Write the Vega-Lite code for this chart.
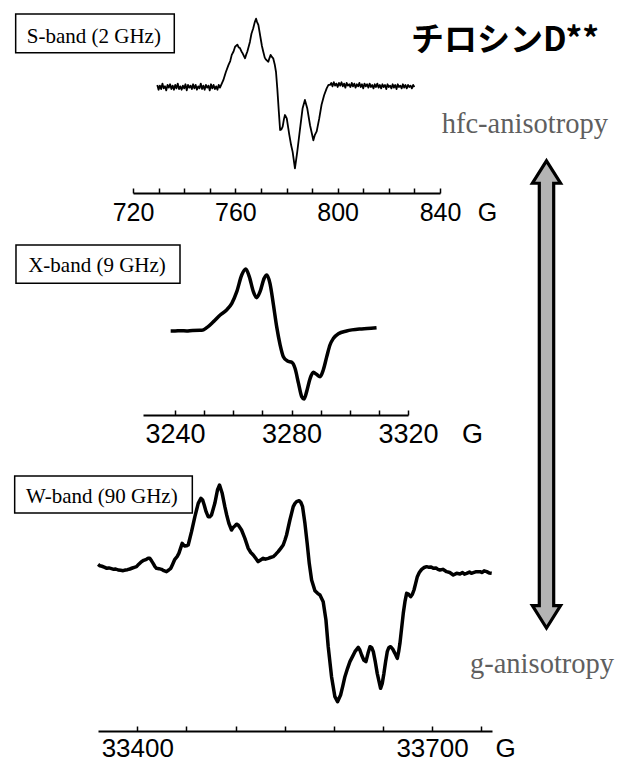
{
  "$schema": "https://vega.github.io/schema/vega-lite/v6.json",
  "width": 622,
  "height": 763,
  "padding": 0,
  "autosize": "none",
  "background": "white",
  "config": {"view": {"stroke": null}},
  "datasets": {
    "sband": [
      {"G":729.5,"I":0.03},{"G":730.0,"I":-0.04},{"G":730.5,"I":0.02},{"G":731.0,"I":-0.03},{"G":731.5,"I":0.05},{"G":732.0,"I":-0.02},{"G":732.5,"I":0.01},{"G":733.0,"I":-0.05},{"G":733.5,"I":0.03},{"G":734.0,"I":-0.01},
      {"G":734.5,"I":0.04},{"G":735.0,"I":-0.03},{"G":735.5,"I":0.02},{"G":736.0,"I":-0.04},{"G":736.5,"I":0.03},{"G":737.0,"I":-0.02},{"G":737.5,"I":0.05},{"G":738.0,"I":-0.03},{"G":738.5,"I":0.01},{"G":739.0,"I":-0.04},
      {"G":739.5,"I":0.02},{"G":740.0,"I":-0.02},{"G":740.5,"I":0.04},{"G":741.0,"I":-0.05},{"G":741.5,"I":0.03},{"G":742.0,"I":-0.01},{"G":742.5,"I":0.02},{"G":743.0,"I":-0.03},{"G":743.5,"I":0.04},{"G":744.0,"I":-0.02},
      {"G":744.5,"I":0.03},{"G":745.0,"I":-0.04},{"G":745.5,"I":0.01},{"G":746.0,"I":-0.02},{"G":746.5,"I":0.05},{"G":747.0,"I":-0.03},{"G":747.5,"I":0.02},{"G":748.0,"I":-0.04},{"G":748.5,"I":0.03},{"G":749.0,"I":-0.01},
      {"G":749.5,"I":0.02},{"G":750.0,"I":-0.05},{"G":750.5,"I":0.04},{"G":751.0,"I":-0.02},{"G":751.5,"I":0.03},{"G":752.0,"I":-0.03},{"G":752.5,"I":0.01},{"G":753.0,"I":-0.04},{"G":753.5,"I":0.03},
      {"G":754.0,"I":-0.01},{"G":755.3,"I":0.10},{"G":756.3,"I":0.22},{"G":757.3,"I":0.32},{"G":758.0,"I":0.38},{"G":758.6,"I":0.47},{"G":759.3,"I":0.52},{"G":759.9,"I":0.59},{"G":760.8,"I":0.62},{"G":761.3,"I":0.58},
      {"G":761.8,"I":0.57},{"G":762.4,"I":0.52},{"G":762.9,"I":0.49},{"G":763.8,"I":0.42},{"G":764.2,"I":0.47},{"G":764.7,"I":0.52},{"G":765.7,"I":0.66},{"G":766.3,"I":0.78},{"G":767.0,"I":0.86},{"G":767.6,"I":0.95},
      {"G":768.1,"I":1.0},{"G":768.5,"I":0.95},{"G":769.0,"I":0.91},{"G":769.9,"I":0.71},{"G":770.4,"I":0.60},{"G":770.9,"I":0.52},{"G":771.5,"I":0.43},{"G":772.0,"I":0.40},{"G":772.9,"I":0.37},{"G":773.3,"I":0.42},
      {"G":773.8,"I":0.47},{"G":774.3,"I":0.44},{"G":774.8,"I":0.42},{"G":775.4,"I":0.33},{"G":775.9,"I":0.22},{"G":776.4,"I":-0.02},{"G":777.0,"I":-0.36},{"G":777.5,"I":-0.63},{"G":778.0,"I":-0.62},{"G":778.5,"I":-0.58},
      {"G":779.0,"I":-0.47},{"G":779.4,"I":-0.41},{"G":780.1,"I":-0.46},{"G":781.1,"I":-0.70},{"G":781.8,"I":-0.85},{"G":782.4,"I":-0.95},{"G":783.3,"I":-1.19},{"G":784.2,"I":-0.95},{"G":785.3,"I":-0.61},{"G":786.3,"I":-0.31},
      {"G":787.2,"I":-0.19},{"G":788.1,"I":-0.31},{"G":789.2,"I":-0.56},{"G":790.5,"I":-0.78},{"G":791.1,"I":-0.70},{"G":791.8,"I":-0.65},{"G":792.8,"I":-0.46},{"G":793.7,"I":-0.26},{"G":794.7,"I":-0.12},{"G":795.7,"I":-0.02},
      {"G":796.4,"I":0.03},{"G":797.0,"I":0.03},
      {"G":797.5,"I":0.06},{"G":798.0,"I":0.01},{"G":798.5,"I":0.07},{"G":799.0,"I":0.02},{"G":799.5,"I":0.05},{"G":800.0,"I":0.0},{"G":800.5,"I":0.06},{"G":801.0,"I":0.02},{"G":801.5,"I":0.07},{"G":802.0,"I":0.01},
      {"G":802.5,"I":0.05},{"G":803.0,"I":-0.01},{"G":803.5,"I":0.06},{"G":804.0,"I":0.02},{"G":804.5,"I":0.04},{"G":805.0,"I":0.0},{"G":805.5,"I":0.06},{"G":806.0,"I":0.01},{"G":806.5,"I":0.05},{"G":807.0,"I":-0.01},
      {"G":807.5,"I":0.04},{"G":808.0,"I":0.01},{"G":808.5,"I":0.06},{"G":809.0,"I":0.0},{"G":809.5,"I":0.04},{"G":810.0,"I":-0.02},{"G":810.5,"I":0.05},{"G":811.0,"I":0.01},{"G":811.5,"I":0.04},{"G":812.0,"I":-0.01},
      {"G":812.5,"I":0.05},{"G":813.0,"I":0.0},{"G":813.5,"I":0.03},{"G":814.0,"I":-0.02},{"G":814.5,"I":0.04},{"G":815.0,"I":0.0},{"G":815.5,"I":0.05},{"G":816.0,"I":-0.01},{"G":816.5,"I":0.03},{"G":817.0,"I":-0.02},
      {"G":817.5,"I":0.04},{"G":818.0,"I":0.0},{"G":818.5,"I":0.03},{"G":819.0,"I":-0.03},{"G":819.5,"I":0.04},{"G":820.0,"I":0.0},{"G":820.5,"I":0.02},{"G":821.0,"I":-0.02},{"G":821.5,"I":0.04},{"G":822.0,"I":-0.01},
      {"G":822.5,"I":0.03},{"G":823.0,"I":-0.03},{"G":823.5,"I":0.04},{"G":824.0,"I":0.0},{"G":824.5,"I":0.02},{"G":825.0,"I":-0.02},{"G":825.5,"I":0.04},{"G":826.0,"I":-0.01},{"G":826.5,"I":0.03},{"G":827.0,"I":-0.02},
      {"G":827.5,"I":0.03},{"G":828.0,"I":0.0},{"G":828.5,"I":0.02},{"G":829.0,"I":-0.02},{"G":829.5,"I":0.03},{"G":830.0,"I":0.0}
    ],
    "xband": [
      {"G":3238.5,"I":0.0},{"G":3240.0,"I":0.0},{"G":3242.0,"I":0.005},{"G":3244.0,"I":0.0},{"G":3246.0,"I":0.01},{"G":3249.2,"I":0.011},{"G":3250.9,"I":0.054},{"G":3253.2,"I":0.151},{"G":3255.5,"I":0.258},{"G":3257.7,"I":0.339},
      {"G":3259.5,"I":0.446},{"G":3261.2,"I":0.634},{"G":3262.9,"I":0.903},{"G":3264.3,"I":1.0},{"G":3265.5,"I":0.876},{"G":3266.9,"I":0.634},{"G":3268.0,"I":0.538},{"G":3269.2,"I":0.634},{"G":3270.6,"I":0.849},{"G":3271.5,"I":0.903},
      {"G":3272.6,"I":0.769},{"G":3273.8,"I":0.419},{"G":3274.9,"I":0.07},{"G":3276.1,"I":-0.226},{"G":3277.2,"I":-0.414},{"G":3278.6,"I":-0.484},{"G":3280.1,"I":-0.505},{"G":3281.2,"I":-0.602},{"G":3282.4,"I":-0.844},{"G":3283.5,"I":-1.059},
      {"G":3284.3,"I":-1.097},{"G":3285.2,"I":-0.978},{"G":3286.4,"I":-0.763},{"G":3287.5,"I":-0.667},{"G":3288.6,"I":-0.699},{"G":3289.8,"I":-0.737},{"G":3290.9,"I":-0.629},{"G":3292.1,"I":-0.414},{"G":3293.2,"I":-0.226},{"G":3294.4,"I":-0.118},
      {"G":3296.1,"I":-0.043},{"G":3298.9,"I":0.0},{"G":3303.5,"I":0.032},{"G":3306.0,"I":0.04},{"G":3309.2,"I":0.054}
    ],
    "wband": [
      {"G":33360.1,"I":0.048},{"G":33362.0,"I":0.03},{"G":33364.0,"I":0.025},{"G":33366.9,"I":0.012},{"G":33369.0,"I":0.0},{"G":33371.0,"I":0.005},{"G":33373.7,"I":-0.004},{"G":33376.0,"I":-0.012},{"G":33378.0,"I":-0.008},{"G":33380.5,"I":-0.02},
      {"G":33383.0,"I":-0.024},{"G":33385.6,"I":-0.028},{"G":33388.0,"I":-0.02},{"G":33390.0,"I":-0.016},{"G":33392.4,"I":-0.008},{"G":33395.0,"I":0.004},{"G":33397.0,"I":0.012},{"G":33399.2,"I":0.02},{"G":33401.5,"I":0.05},{"G":33404.2,"I":0.08},
      {"G":33406.5,"I":0.096},{"G":33409.3,"I":0.108},{"G":33411.0,"I":0.12},{"G":33412.7,"I":0.12},{"G":33414.5,"I":0.09},{"G":33416.1,"I":0.06},{"G":33418.0,"I":0.02},{"G":33419.5,"I":0.0},{"G":33422.0,"I":-0.004},{"G":33424.6,"I":-0.012},
      {"G":33427.0,"I":-0.028},{"G":33429.7,"I":-0.04},{"G":33432.0,"I":-0.02},{"G":33434.1,"I":0.0},{"G":33436.0,"I":0.05},{"G":33438.2,"I":0.108},{"G":33440.5,"I":0.14},{"G":33442.3,"I":0.18},{"G":33444.0,"I":0.24},{"G":33445.7,"I":0.3},
      {"G":33447.0,"I":0.28},{"G":33448.4,"I":0.268},{"G":33450.0,"I":0.27},{"G":33451.8,"I":0.28},{"G":33455.2,"I":0.44},{"G":33458.6,"I":0.62},{"G":33462.0,"I":0.78},{"G":33464.7,"I":0.84},{"G":33466.5,"I":0.82},{"G":33468.1,"I":0.76},
      {"G":33470.0,"I":0.68},{"G":33472.1,"I":0.62},{"G":33473.8,"I":0.62},{"G":33475.5,"I":0.64},{"G":33478.9,"I":0.78},{"G":33481.6,"I":0.94},{"G":33483.7,"I":1.0},{"G":33486.4,"I":0.9},{"G":33489.1,"I":0.74},{"G":33491.0,"I":0.64},
      {"G":33493.2,"I":0.54},{"G":33495.9,"I":0.46},{"G":33497.5,"I":0.49},{"G":33499.3,"I":0.508},{"G":33501.0,"I":0.53},{"G":33502.7,"I":0.52},{"G":33506.1,"I":0.46},{"G":33509.5,"I":0.36},{"G":33512.9,"I":0.24},{"G":33515.5,"I":0.19},
      {"G":33518.0,"I":0.16},{"G":33520.5,"I":0.12},{"G":33523.0,"I":0.08},{"G":33525.5,"I":0.1},{"G":33528.1,"I":0.12},{"G":33530.5,"I":0.11},{"G":33533.2,"I":0.12},{"G":33535.5,"I":0.13},{"G":33538.3,"I":0.14},{"G":33541.0,"I":0.17},
      {"G":33543.4,"I":0.2},{"G":33546.0,"I":0.24},{"G":33548.5,"I":0.28},{"G":33550.3,"I":0.34},{"G":33551.9,"I":0.4},{"G":33553.6,"I":0.49},{"G":33555.3,"I":0.58},{"G":33557.0,"I":0.66},{"G":33558.7,"I":0.74},{"G":33560.5,"I":0.78},
      {"G":33562.1,"I":0.8},{"G":33564.8,"I":0.812},{"G":33566.5,"I":0.79},{"G":33568.2,"I":0.74},{"G":33570.6,"I":0.54},{"G":33572.9,"I":0.3},{"G":33575.0,"I":0.06},{"G":33577.4,"I":-0.14},{"G":33580.8,"I":-0.268},{"G":33583.5,"I":-0.3},
      {"G":33585.9,"I":-0.32},{"G":33589.2,"I":-0.4},{"G":33592.0,"I":-0.62},{"G":33594.3,"I":-0.94},{"G":33597.7,"I":-1.3},{"G":33601.1,"I":-1.54},{"G":33603.8,"I":-1.6},{"G":33606.9,"I":-1.52},{"G":33609.0,"I":-1.42},{"G":33611.3,"I":-1.3},
      {"G":33614.0,"I":-1.2},{"G":33616.4,"I":-1.12},{"G":33619.0,"I":-1.06},{"G":33621.5,"I":-1.0},{"G":33624.9,"I":-0.948},{"G":33626.5,"I":-0.98},{"G":33628.3,"I":-1.04},{"G":33630.5,"I":-1.1},{"G":33632.7,"I":-1.12},{"G":33634.8,"I":-1.02},
      {"G":33636.8,"I":-0.94},{"G":33638.5,"I":-0.95},{"G":33640.2,"I":-1.0},{"G":33642.2,"I":-1.12},{"G":33644.2,"I":-1.26},{"G":33647.6,"I":-1.44},{"G":33649.3,"I":-1.38},{"G":33651.0,"I":-1.26},{"G":33652.7,"I":-1.12},{"G":33654.4,"I":-1.0},
      {"G":33656.0,"I":-0.95},{"G":33657.8,"I":-0.94},{"G":33660.0,"I":-0.97},{"G":33662.2,"I":-1.02},{"G":33664.6,"I":-1.08},{"G":33666.0,"I":-1.0},{"G":33667.3,"I":-0.9},{"G":33669.0,"I":-0.72},{"G":33670.7,"I":-0.54},{"G":33672.4,"I":-0.4},
      {"G":33674.1,"I":-0.3},{"G":33676.0,"I":-0.31},{"G":33678.2,"I":-0.34},{"G":33680.0,"I":-0.31},{"G":33681.6,"I":-0.26},{"G":33683.3,"I":-0.18},{"G":33685.0,"I":-0.1},{"G":33687.0,"I":-0.05},{"G":33689.4,"I":-0.012},{"G":33692.0,"I":0.01},
      {"G":33694.5,"I":0.02},{"G":33697.0,"I":0.012},{"G":33699.0,"I":0.016},{"G":33701.3,"I":0.0},{"G":33704.0,"I":0.004},{"G":33706.0,"I":-0.012},{"G":33708.0,"I":-0.02},{"G":33711.0,"I":-0.012},{"G":33714.8,"I":-0.04},{"G":33718.0,"I":-0.05},
      {"G":33721.6,"I":-0.08},{"G":33725.0,"I":-0.06},{"G":33728.4,"I":-0.068},{"G":33731.0,"I":-0.05},{"G":33733.0,"I":-0.07},{"G":33735.2,"I":-0.06},{"G":33738.0,"I":-0.045},{"G":33740.0,"I":-0.06},{"G":33742.0,"I":-0.052},{"G":33745.0,"I":-0.04},
      {"G":33748.8,"I":-0.04},{"G":33751.0,"I":-0.05},{"G":33753.0,"I":-0.03},{"G":33755.6,"I":-0.04},{"G":33758.0,"I":-0.055},{"G":33760.7,"I":-0.06}
    ],
    "boxes": [
      {"band":"S","x1":2.52,"x2":28.02,"y1":1.83,"y2":6.91},
      {"band":"X","x1":2.57,"x2":28.94,"y1":32.11,"y2":37.13},
      {"band":"W","x1":2.36,"x2":30.92,"y1":62.38,"y2":67.23}
    ],
    "boxlabels": [
      {"fx":15.09,"fy":5.6,"label":"S-band (2 GHz)"},
      {"fx":15.59,"fy":35.69,"label":"X-band (9 GHz)"},
      {"fx":16.37,"fy":65.97,"label":"W-band (90 GHz)"}
    ],
    "title": [{"fx":66.08,"fy":6.62,"label":"チロシンD**"}],
    "notes": [
      {"fx":71.01,"fy":17.43,"label":"hfc-anisotropy"},
      {"fx":75.56,"fy":88.2,"label":"g-anisotropy"}
    ],
    "arrow": [{"fx":87.86,"fy":51.7}]
  },
  "layer": [
    {
      "data": {"name": "sband"},
      "mark": {"type": "line", "color": "black", "strokeWidth": 1.8, "strokeJoin": "round"},
      "encoding": {
        "x": {"field": "G", "type": "quantitative",
          "scale": {"domain": [720, 840], "range": [133, 440], "nice": false, "zero": false},
          "axis": {"orient": "bottom", "offset": -570, "values": [720,730,740,750,760,770,780,790,800,810,820,830,840],
            "format": "d", "labelExpr": "datum.value % 40 === 0 ? datum.label : ''",
            "labelFlush": false, "labelOverlap": false, "labelBound": false,
            "labelFont": "Liberation Sans", "labelFontSize": 25, "labelColor": "black", "labelBaseline": "middle", "labelPadding": 24.5,
            "tickSize": -5, "tickColor": "black", "tickWidth": 1.5, "domainColor": "black", "domainWidth": 2, "grid": false,
            "title": "G", "titleX": 487, "titleY": 19.5, "titleAlign": "center", "titleBaseline": "middle", "titleAngle": 0,
            "titleFont": "Liberation Sans", "titleFontSize": 25, "titleFontWeight": "normal", "titleColor": "black"}},
        "y": {"field": "I", "type": "quantitative",
          "scale": {"domain": [-1, 1], "range": [155.3, 18.7], "nice": false, "zero": false}, "axis": null}
      }
    },
    {
      "data": {"name": "xband"},
      "mark": {"type": "line", "color": "black", "strokeWidth": 3.5, "strokeJoin": "round", "interpolate": "monotone"},
      "encoding": {
        "x": {"field": "G", "type": "quantitative",
          "scale": {"domain": [3229, 3320], "range": [143, 408], "nice": false, "zero": false},
          "axis": {"orient": "bottom", "offset": -348, "values": [3240,3250,3260,3270,3280,3290,3300,3310,3320],
            "format": "d", "labelExpr": "datum.value % 40 === 0 ? datum.label : ''",
            "labelFlush": false, "labelOverlap": false, "labelBound": false,
            "labelFont": "Liberation Sans", "labelFontSize": 27, "labelColor": "black", "labelBaseline": "middle", "labelPadding": 24,
            "tickSize": -5, "tickColor": "black", "tickWidth": 1.5, "domainColor": "black", "domainWidth": 2, "grid": false,
            "title": "G", "titleX": 472, "titleY": 19, "titleAlign": "center", "titleBaseline": "middle", "titleAngle": 0,
            "titleFont": "Liberation Sans", "titleFontSize": 27, "titleFontWeight": "normal", "titleColor": "black"}},
        "y": {"field": "I", "type": "quantitative",
          "scale": {"domain": [-1, 1], "range": [393, 269], "nice": false, "zero": false}, "axis": null}
      }
    },
    {
      "data": {"name": "wband"},
      "mark": {"type": "line", "color": "black", "strokeWidth": 3.5, "strokeJoin": "round"},
      "encoding": {
        "x": {"field": "G", "type": "quantitative",
          "scale": {"domain": [33360, 33761], "range": [98, 492], "nice": false, "zero": false},
          "axis": {"orient": "bottom", "offset": -32, "values": [33400,33450,33500,33550,33600,33650,33700,33750],
            "format": "d", "labelExpr": "(datum.value === 33400 || datum.value === 33700) ? datum.label : ''",
            "labelFlush": false, "labelOverlap": false, "labelBound": false,
            "labelFont": "Liberation Sans", "labelFontSize": 26, "labelColor": "black", "labelBaseline": "middle", "labelPadding": 22.5,
            "tickSize": -5, "tickColor": "black", "tickWidth": 1.5, "domainColor": "black", "domainWidth": 2, "grid": false,
            "title": "G", "titleX": 505, "titleY": 17.5, "titleAlign": "center", "titleBaseline": "middle", "titleAngle": 0,
            "titleFont": "Liberation Sans", "titleFontSize": 26, "titleFontWeight": "normal", "titleColor": "black"}},
        "y": {"field": "I", "type": "quantitative",
          "scale": {"domain": [-1, 1], "range": [651.67, 485], "nice": false, "zero": false}, "axis": null}
      }
    },
    {
      "data": {"name": "boxes"},
      "mark": {"type": "rect", "fill": "white", "stroke": "black", "strokeWidth": 1.5},
      "encoding": {
        "x": {"field": "x1", "type": "quantitative", "scale": {"domain": [0, 100], "range": [0, 622], "nice": false, "zero": false}, "axis": null},
        "x2": {"field": "x2"},
        "y": {"field": "y1", "type": "quantitative", "scale": {"domain": [0, 100], "range": [0, 763], "nice": false, "zero": false}, "axis": null},
        "y2": {"field": "y2"}
      }
    },
    {
      "data": {"name": "boxlabels"},
      "mark": {"type": "text", "font": "Liberation Serif", "fontSize": 21, "color": "black", "align": "center", "baseline": "alphabetic"},
      "encoding": {
        "x": {"field": "fx", "type": "quantitative", "scale": {"domain": [0, 100], "range": [0, 622], "nice": false, "zero": false}, "axis": null},
        "y": {"field": "fy", "type": "quantitative", "scale": {"domain": [0, 100], "range": [0, 763], "nice": false, "zero": false}, "axis": null},
        "text": {"field": "label"}
      }
    },
    {
      "data": {"name": "title"},
      "mark": {"type": "text", "font": "Noto Sans CJK JP", "fontSize": 33, "fontWeight": "bold", "color": "black", "align": "left", "baseline": "alphabetic"},
      "encoding": {
        "x": {"field": "fx", "type": "quantitative", "scale": {"domain": [0, 100], "range": [0, 622], "nice": false, "zero": false}, "axis": null},
        "y": {"field": "fy", "type": "quantitative", "scale": {"domain": [0, 100], "range": [0, 763], "nice": false, "zero": false}, "axis": null},
        "text": {"field": "label"}
      }
    },
    {
      "data": {"name": "notes"},
      "mark": {"type": "text", "font": "Liberation Serif", "fontSize": 28.5, "color": "#5f5f5f", "align": "left", "baseline": "alphabetic"},
      "encoding": {
        "x": {"field": "fx", "type": "quantitative", "scale": {"domain": [0, 100], "range": [0, 622], "nice": false, "zero": false}, "axis": null},
        "y": {"field": "fy", "type": "quantitative", "scale": {"domain": [0, 100], "range": [0, 763], "nice": false, "zero": false}, "axis": null},
        "text": {"field": "label"}
      }
    },
    {
      "data": {"name": "arrow"},
      "mark": {"type": "point", "shape": "M0,-14.6 L0.88,-13.2 L0.45,-13.2 L0.45,13.2 L0.88,13.2 L0,14.6 L-0.88,13.2 L-0.45,13.2 L-0.45,-13.2 L-0.88,-13.2 Z",
        "size": 1024, "filled": true, "fill": "#b4b4b4", "stroke": "black", "strokeWidth": 3.2, "strokeJoin": "miter", "opacity": 1, "fillOpacity": 1, "strokeOpacity": 1},
      "encoding": {
        "x": {"field": "fx", "type": "quantitative", "scale": {"domain": [0, 100], "range": [0, 622], "nice": false, "zero": false}, "axis": null},
        "y": {"field": "fy", "type": "quantitative", "scale": {"domain": [0, 100], "range": [0, 763], "nice": false, "zero": false}, "axis": null}
      }
    }
  ],
  "resolve": {"scale": {"x": "independent", "y": "independent"}}
}
